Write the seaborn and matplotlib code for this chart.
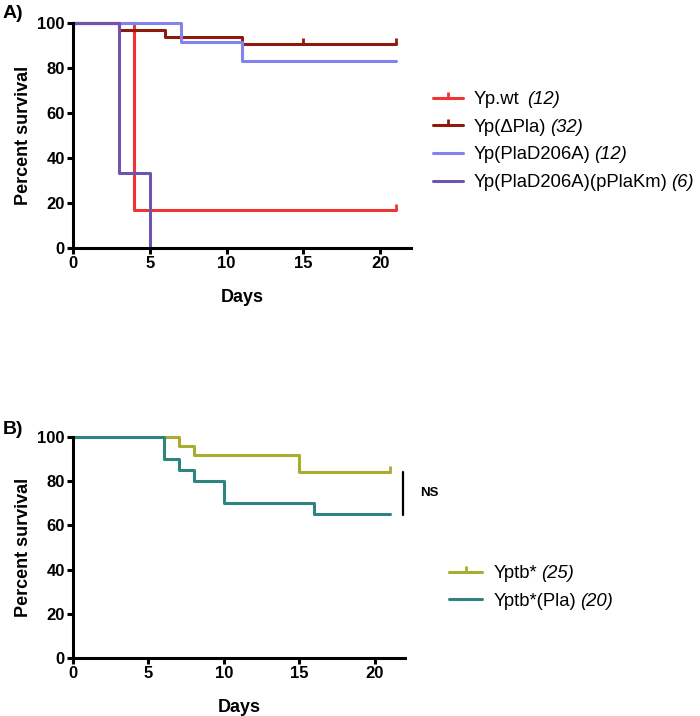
import matplotlib
matplotlib.use("Agg")
import matplotlib.pyplot as plt
from matplotlib.lines import Line2D
import seaborn as sns
import pandas as pd

# ---------------- data ----------------
# Panel A: Kaplan-Meier steps (day, percent survival)
a_names = ["Yp.wt ", "Yp(ΔPla)", "Yp(PlaD206A)", "Yp(PlaD206A)(pPlaKm)"]
a_counts = ["(12)", "(32)", "(12)", "(6)"]
a_days = [[0, 4, 21], [0, 3, 6, 11, 21], [0, 7, 11, 21], [0, 3, 5]]
a_surv = [[100, 16.67, 16.67], [100, 96.875, 93.75, 90.625, 90.625],
          [100, 91.67, 83.33, 83.33], [100, 33.33, 0]]
a_censor_days = [[21], [15, 21], [], []]
a_colors = ["#F03333", "#8E1A0E", "#8383EE", "#6E54B0"]

# Panel B
b_names = ["Yptb*", "Yptb*(Pla)"]
b_counts = ["(25)", "(20)"]
b_days = [[0, 7, 8, 15, 21], [0, 6, 7, 8, 10, 16, 21]]
b_surv = [[100, 96, 92, 84, 84], [100, 90, 85, 80, 70, 65, 65]]
b_censor_days = [[21], []]
b_colors = ["#A9AC2E", "#2E8480"]

x_ticks = [0, 5, 10, 15, 20]
y_ticks = [0, 20, 40, 60, 80, 100]

# ---------------- style ----------------
sns.set_style("ticks")
plt.rcParams["font.family"] = ["Liberation Sans", "DejaVu Sans"]
for k in ["text.color", "axes.labelcolor", "xtick.color", "ytick.color", "axes.edgecolor"]:
    plt.rcParams[k] = "black"

fig = plt.figure(figsize=(7.0, 7.16), dpi=100)
axA = fig.add_axes([73 / 700, 1 - 248 / 716, (411 - 73) / 700, 225 / 716])
axB = fig.add_axes([73 / 700, 1 - 658 / 716, (405 - 73) / 700, 221 / 716])

LW = 2.2
LEG_FS = 13.3


def build_df(names, days, surv):
    rows = []
    for n, d, s in zip(names, days, surv):
        for x, y in zip(d, s):
            rows.append({"series": n, "day": x, "surv": y})
    return pd.DataFrame(rows)


def draw_panel(ax, names, counts, days, surv, cens, colors):
    df = build_df(names, days, surv)
    for n, c in zip(names, colors):
        sub = df[df["series"] == n]
        sns.lineplot(data=sub, x="day", y="surv", ax=ax, color=c,
                     drawstyle="steps-post", lw=LW, estimator=None,
                     sort=False, clip_on=False, legend=False)
    # censor marks
    for n, d, s, cd, c in zip(names, days, surv, cens, colors):
        for x in cd:
            y = [yy for xx, yy in zip(d, s) if xx <= x][-1]
            ax.plot([x], [y], marker=2, ms=4.5, mew=2.0, color=c,
                    clip_on=False, ls="none")
    ax.set_xlim(0, 22)
    ax.set_ylim(0, 100)
    ax.set_xticks(x_ticks)
    ax.set_yticks(y_ticks)
    ax.set_xticklabels([str(t) for t in x_ticks], fontsize=12, fontweight="bold")
    ax.set_yticklabels([str(t) for t in y_ticks], fontsize=12, fontweight="bold")
    ax.set_xlabel("Days", fontsize=13, fontweight="bold", labelpad=13)
    ax.set_ylabel("Percent survival", fontsize=13, fontweight="bold", labelpad=4)
    sns.despine(ax=ax)
    for sp in ["left", "bottom"]:
        ax.spines[sp].set_linewidth(2.2)
    ax.tick_params(width=2.2, length=4, pad=2)
    handles = []
    for n, cd, c in zip(names, cens, colors):
        handles.append(Line2D([0, 0.5, 1], [0, 0, 0], color=c, lw=LW,
                              marker=(2 if cd else None), ms=4.5, mew=2.0,
                              markevery=[1] if cd else None,
                              label=n))
    return handles


hA = draw_panel(axA, a_names, a_counts, a_days, a_surv, a_censor_days, a_colors)
hB = draw_panel(axB, b_names, b_counts, b_days, b_surv, b_censor_days, b_colors)

legA = axA.legend(handles=hA, loc="upper left", bbox_to_anchor=(433 / 700, 1 - 91 / 716),
                  bbox_transform=fig.transFigure, frameon=False, fontsize=LEG_FS,
                  handlelength=1.6, handletextpad=0.6, labelspacing=0.58,
                  borderpad=0, borderaxespad=0)
legB = axB.legend(handles=hB, loc="upper left", bbox_to_anchor=(449 / 700, 1 - 565 / 716),
                  bbox_transform=fig.transFigure, frameon=False, fontsize=LEG_FS,
                  handlelength=1.8, handletextpad=0.6, labelspacing=0.58,
                  borderpad=0, borderaxespad=0)

# NS bracket between final values of panel B series
y_top = b_surv[0][-1]
y_bot = b_surv[1][-1]
axB.plot([21.85, 21.85], [y_top, y_bot - 0.5], color="black", lw=1.6, clip_on=False)
axB.text(23.0, (y_top + y_bot) / 2, "NS", fontsize=9.5, fontweight="bold",
         ha="left", va="center")

fig.text(3 / 700, 1 - 14 / 716, "A)", fontsize=14, fontweight="bold", va="center")
fig.text(3 / 700, 1 - 430 / 716, "B)", fontsize=14, fontweight="bold", va="center")

# italic counts appended after legend labels
fig.canvas.draw()
renderer = fig.canvas.get_renderer()
inv = fig.transFigure.inverted()
for leg, counts in [(legA, a_counts), (legB, b_counts)]:
    for t, cnt in zip(leg.get_texts(), counts):
        bb = t.get_window_extent(renderer)
        x0, y0 = inv.transform((bb.x1 + 4, bb.y0))
        fig.text(x0, y0, cnt, fontsize=LEG_FS, fontstyle="italic",
                 ha="left", va="bottom")

fig.savefig("out.png", dpi=100)
